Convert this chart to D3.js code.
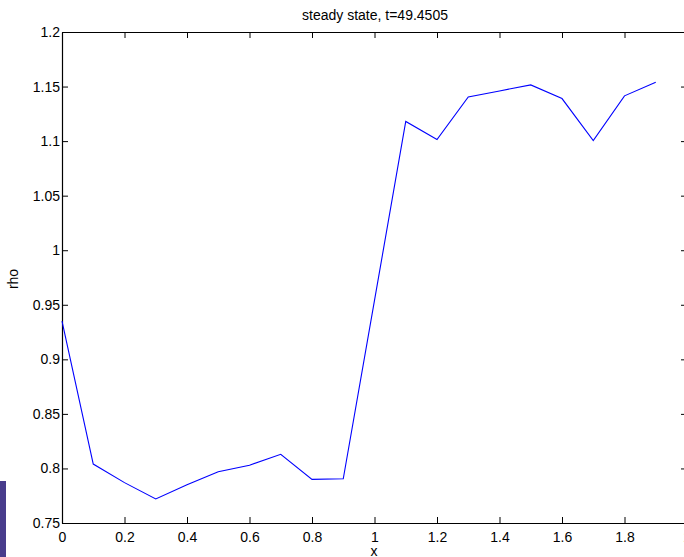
<!DOCTYPE html>
<html lang="en">
<head>
  <meta charset="UTF-8">
  <title>steady state</title>
  <style>
    body { margin: 0; background: #fff; }
    svg { display: block; }
    text { font-family: "Liberation Sans", Arial, sans-serif; }
  </style>
</head>
<body>
  <svg width="684" height="557"></svg>
  <script src="https://d3js.org/d3.v7.min.js"></script>
  <script>

  // data
  var xs = [0, 0.1, 0.2, 0.3, 0.4, 0.5, 0.6, 0.7, 0.8, 0.9,
            1.0, 1.1, 1.2, 1.3, 1.4, 1.5, 1.6, 1.7, 1.8, 1.9];
  var rho = [0.935, 0.804, 0.787, 0.772, 0.785, 0.797, 0.803, 0.813, 0.790, 0.7905,
             0.954, 1.118, 1.1015, 1.1405, 1.146, 1.1515, 1.139, 1.1005, 1.1415, 1.154];
  var xTicks = [0, 0.2, 0.4, 0.6, 0.8, 1, 1.2, 1.4, 1.6, 1.8, 2];
  var yTicks = [0.75, 0.8, 0.85, 0.9, 0.95, 1, 1.05, 1.1, 1.15, 1.2];

  var svg = d3.select('svg');

  // plot box (right edge sits just past the window)
  var boxL = 62, boxR = 687, boxT = 32, boxB = 523;

  var x = d3.scaleLinear().domain([0, 2]).range([boxL, boxR]);
  var y = d3.scaleLinear().domain([0.75, 1.2]).range([boxB, boxT]);

  var fmt = function(d) { return String(+d.toFixed(2)); };

  // bottom axis, ticks pointing in
  svg.append('g')
    .attr('transform', 'translate(0,' + boxB + ')')
    .call(d3.axisBottom(x).tickValues(xTicks).tickFormat(fmt)
      .tickSizeInner(-6).tickSizeOuter(0).tickPadding(9));

  // top axis, ticks only
  svg.append('g')
    .attr('transform', 'translate(0,' + boxT + ')')
    .call(d3.axisTop(x).tickValues(xTicks).tickFormat('')
      .tickSizeInner(-6).tickSizeOuter(0));

  // left axis
  svg.append('g')
    .attr('transform', 'translate(' + boxL + ',0)')
    .call(d3.axisLeft(y).tickValues(yTicks).tickFormat(fmt)
      .tickSizeInner(-6).tickSizeOuter(0).tickPadding(2));

  // right axis, ticks only
  svg.append('g')
    .attr('transform', 'translate(' + boxR + ',0)')
    .call(d3.axisRight(y).tickValues(yTicks).tickFormat('')
      .tickSizeInner(-6).tickSizeOuter(0));

  svg.selectAll('.domain').attr('stroke', '#000').attr('stroke-width', 1.2);
  svg.selectAll('.tick line').attr('stroke', '#000');
  svg.selectAll('.tick text')
    .attr('fill', '#000')
    .style('font-size', '14px')
    .style('font-family', '"Liberation Sans", Arial, sans-serif');

  // the rho curve
  var line = d3.line()
    .x(function(d, i) { return x(xs[i]); })
    .y(function(d) { return y(d); });

  svg.append('path')
    .datum(rho)
    .attr('d', line)
    .attr('fill', 'none')
    .attr('stroke', '#0000ff')
    .attr('stroke-width', 1.1);

  // labels
  svg.append('text')
    .attr('x', 375).attr('y', 20)
    .attr('text-anchor', 'middle')
    .style('font-size', '14px')
    .text('steady state, t=49.4505');

  svg.append('text')
    .attr('x', 374).attr('y', 556)
    .attr('text-anchor', 'middle')
    .style('font-size', '14px')
    .text('x');

  svg.append('text')
    .attr('transform', 'translate(18,279) rotate(-90)')
    .attr('text-anchor', 'middle')
    .style('font-size', '14px')
    .text('rho');

  // purple block at lower left edge
  svg.append('rect')
    .attr('x', 0).attr('y', 481)
    .attr('width', 6).attr('height', 76)
    .attr('fill', '#483c8c');

  </script>
</body>
</html>
